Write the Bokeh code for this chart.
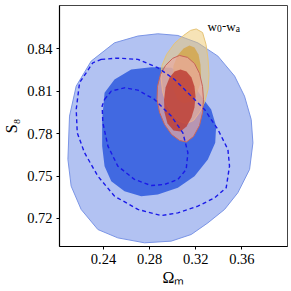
from bokeh.plotting import figure
from bokeh.models import Range1d, FixedTicker, Label, PrintfTickFormatter
from bokeh.embed import file_html
from bokeh.resources import INLINE

# ---- data (Omega_m, S8) contour outlines ----
ticks_x = [0.24, 0.28, 0.32, 0.36]
ticks_y = [0.72, 0.75, 0.78, 0.81, 0.84]

blue2_x = [0.2871, 0.2698, 0.2495, 0.2293, 0.2163, 0.2105, 0.2091, 0.2119, 0.2206, 0.2351,
           0.2524, 0.2756, 0.2987, 0.3161, 0.3305, 0.3450, 0.3565, 0.3667, 0.3696, 0.3681,
           0.3623, 0.3537, 0.3392, 0.3218, 0.3045]
blue2_y = [0.8506, 0.8490, 0.8442, 0.8313, 0.8136, 0.7924, 0.7618, 0.7429, 0.7264, 0.7122,
           0.7063, 0.7028, 0.7040, 0.7087, 0.7169, 0.7264, 0.7382, 0.7547, 0.7735, 0.7900,
           0.8065, 0.8207, 0.8348, 0.8442, 0.8494]

blue1_x = [0.2409, 0.2495, 0.2640, 0.2814, 0.2987, 0.3132, 0.3247, 0.3334, 0.3377, 0.3369,
           0.3305, 0.3189, 0.3045, 0.2871, 0.2727, 0.2582, 0.2467, 0.2409, 0.2388, 0.2388]
blue1_y = [0.8089, 0.8183, 0.8254, 0.8270, 0.8266, 0.8207, 0.8065, 0.7971, 0.7853, 0.7735,
           0.7617, 0.7499, 0.7417, 0.7370, 0.7358, 0.7393, 0.7464, 0.7570, 0.7712, 0.7900]

dash2_x = [0.2380, 0.2524, 0.2698, 0.2871, 0.3016, 0.3161, 0.3276, 0.3392, 0.3479, 0.3493,
           0.3464, 0.3363, 0.3218, 0.3045, 0.2900, 0.2698, 0.2495, 0.2351, 0.2235, 0.2172,
           0.2163, 0.2192, 0.2307]
dash2_y = [0.8325, 0.8334, 0.8325, 0.8266, 0.8183, 0.8065, 0.7971, 0.7830, 0.7688, 0.7570,
           0.7417, 0.7346, 0.7287, 0.7240, 0.7221, 0.7264, 0.7358, 0.7499, 0.7665, 0.7806,
           0.7971, 0.8160, 0.8301]

dash1_x = [0.2409, 0.2467, 0.2582, 0.2698, 0.2842, 0.2987, 0.3088, 0.3132, 0.3117, 0.3045,
           0.2929, 0.2814, 0.2669, 0.2524, 0.2438, 0.2394, 0.2388]
dash1_y = [0.8042, 0.8101, 0.8124, 0.8108, 0.8042, 0.7924, 0.7806, 0.7665, 0.7547, 0.7476,
           0.7441, 0.7433, 0.7476, 0.7570, 0.7712, 0.7877, 0.7995]

yel2_x = [0.3204, 0.3259, 0.3289, 0.3307, 0.3315, 0.3307, 0.3276, 0.3233, 0.3181, 0.3120,
          0.3059, 0.2999, 0.2947, 0.2912, 0.2899, 0.2907, 0.2947, 0.3016, 0.3094, 0.3155]
yel2_y = [0.8540, 0.8515, 0.8431, 0.8325, 0.8218, 0.8112, 0.8020, 0.7950, 0.7893, 0.7872,
          0.7886, 0.7936, 0.8006, 0.8098, 0.8197, 0.8282, 0.8360, 0.8438, 0.8494, 0.8530]

yel1_x = [0.3146, 0.3189, 0.3224, 0.3241, 0.3245, 0.3237, 0.3207, 0.3155, 0.3094, 0.3042,
          0.3007, 0.2999, 0.3007, 0.3042, 0.3094]
yel1_y = [0.8424, 0.8409, 0.8360, 0.8289, 0.8218, 0.8147, 0.8077, 0.8027, 0.8013, 0.8042,
          0.8112, 0.8197, 0.8282, 0.8353, 0.8402]

red2_x = [0.3059, 0.3129, 0.3189, 0.3233, 0.3259, 0.3267, 0.3259, 0.3233, 0.3181, 0.3120,
          0.3059, 0.2990, 0.2929, 0.2886, 0.2864, 0.2868, 0.2894, 0.2938, 0.2999]
red2_y = [0.8353, 0.8339, 0.8296, 0.8225, 0.8133, 0.8042, 0.7950, 0.7858, 0.7780, 0.7741,
          0.7752, 0.7794, 0.7865, 0.7950, 0.8042, 0.8133, 0.8218, 0.8282, 0.8332]

red1_x = [0.3068, 0.3120, 0.3163, 0.3189, 0.3198, 0.3189, 0.3163, 0.3120, 0.3068, 0.3007,
          0.2955, 0.2929, 0.2925, 0.2938, 0.2973, 0.3016]
red1_y = [0.8254, 0.8240, 0.8197, 0.8133, 0.8063, 0.7985, 0.7914, 0.7851, 0.7815, 0.7822,
          0.7872, 0.7950, 0.8042, 0.8126, 0.8197, 0.8240]

SERIF = "Liberation Serif"

p = figure(frame_width=228, frame_height=241,
           x_range=Range1d(0.2018, 0.3996), y_range=Range1d(0.7002, 0.8706),
           output_backend="svg", toolbar_location=None,
           min_border_left=47, min_border_right=8, min_border_top=5, min_border_bottom=37)
p.background_fill_color = "white"
p.border_fill_color = "white"
p.outline_line_color = "#444444"
p.outline_line_width = 1
p.grid.visible = False

for ax, t in ((p.xaxis, ticks_x), (p.yaxis, ticks_y)):
    ax.ticker = FixedTicker(ticks=t)
    ax.formatter = PrintfTickFormatter(format="%.2f")
    ax.major_label_text_font = SERIF
    ax.major_label_text_font_size = "14.5px"
    ax.major_label_text_color = "black"
    ax.axis_line_color = "black"
    ax.axis_line_width = 1.2
    ax.major_tick_line_color = "black"
    ax.major_tick_out = 3
    ax.major_tick_in = 0
    ax.minor_tick_line_color = None
    ax.major_label_standoff = 4
    ax.axis_label_text_font = SERIF
    ax.axis_label_text_font_size = "16px"
    ax.axis_label_text_font_style = "normal"
    ax.axis_label_text_color = "black"

p.xaxis.axis_label = "Ωₘ"
p.xaxis.axis_label_standoff = 2
p.yaxis.axis_label = "S₈"
p.yaxis.axis_label_standoff = 4

# blue contours
p.patch(blue2_x, blue2_y, fill_color="#b2c2f2", fill_alpha=1.0,
        line_color="#7b95e6", line_width=1)
p.patch(blue1_x, blue1_y, fill_color="#4169e1", fill_alpha=1.0, line_color=None)

# yellow contours
p.patch(yel2_x, yel2_y, fill_color="#eec86e", fill_alpha=0.5,
        line_color="#e6c476", line_width=1)
p.patch(yel1_x, yel1_y, fill_color="#d4a64c", fill_alpha=0.85, line_color=None)

# red contours
p.patch(red2_x, red2_y, fill_color="#eaaaa0", fill_alpha=0.7,
        line_color="#c8645a", line_width=1)
p.patch(red1_x, red1_y, fill_color="#bc3a32", fill_alpha=0.82, line_color=None)

# dashed contours
p.patch(dash2_x + dash2_x[:1], dash2_y + dash2_y[:1], fill_alpha=0,
        line_color="#1a1ae8", line_width=1.4, line_dash="4 3")
p.patch(dash1_x + dash1_x[:1], dash1_y + dash1_y[:1], fill_alpha=0,
        line_color="#1a1ae8", line_width=1.4, line_dash="4 3")

def lab(x, y, t, size, style="normal"):
    p.add_layout(Label(x=x, y=y, x_units="screen", y_units="screen", text=t,
                       text_font=SERIF, text_font_size=size, text_font_style=style,
                       text_color="black", text_baseline="alphabetic",
                       text_align="left"))

# panel label w0-wa
lab(148, 220.3, "w", "13px")
lab(157.4, 218.0, "0", "9.5px")
lab(162.5, 220.3, "-", "13px")
lab(166.8, 220.3, "w", "13px")
lab(176.2, 218.0, "a", "9.5px")

open("out.html", "w").write(file_html(p, INLINE))
